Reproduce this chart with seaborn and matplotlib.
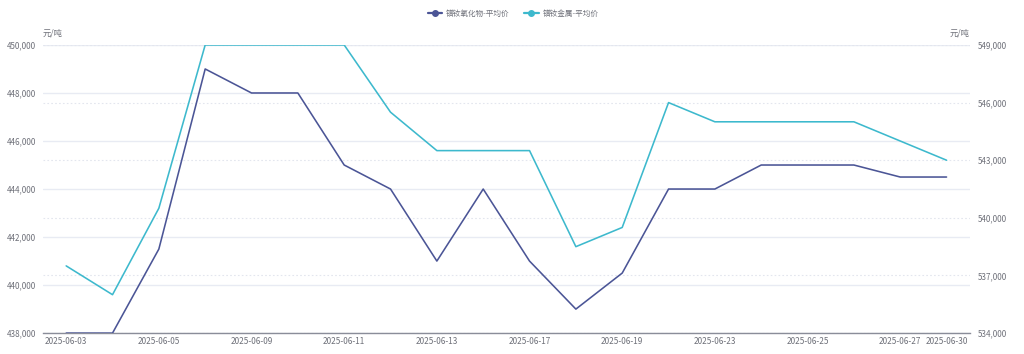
import numpy as np
import pandas as pd
import matplotlib
matplotlib.use("Agg")
import matplotlib.pyplot as plt
import seaborn as sns
from matplotlib.lines import Line2D
from matplotlib.ticker import FuncFormatter

# ── Data ──────────────────────────────────────────────────────────────────────
dates = [
    "2025-06-03", "2025-06-04", "2025-06-05", "2025-06-06", "2025-06-09",
    "2025-06-10", "2025-06-11", "2025-06-12", "2025-06-13", "2025-06-16",
    "2025-06-17", "2025-06-18", "2025-06-19", "2025-06-20", "2025-06-23",
    "2025-06-24", "2025-06-25", "2025-06-26", "2025-06-27", "2025-06-30",
]
oxide_price = [
    438000, 438000, 441500, 449000, 448000, 448000, 445000, 444000, 441000, 444000,
    441000, 439000, 440500, 444000, 444000, 445000, 445000, 445000, 444500, 444500,
]
metal_price = [
    537500, 536000, 540500, 549000, 549000, 549000, 549000, 545500, 543500, 543500,
    543500, 538500, 539500, 546000, 545000, 545000, 545000, 545000, 544000, 543000,
]
shown_dates = ["2025-06-03", "2025-06-05", "2025-06-09", "2025-06-11", "2025-06-13",
               "2025-06-17", "2025-06-19", "2025-06-23", "2025-06-25", "2025-06-27",
               "2025-06-30"]
left_ticks = np.arange(438000, 450001, 2000)
right_ticks = np.arange(534000, 549001, 3000)
LEFT_LIM = (438000, 450000)
RIGHT_LIM = (534000, 549000)

OXIDE_NAME = "镨钕氧化物-平均价"
METAL_NAME = "镨钕金属-平均价"
C_OXIDE = "#4b5596"
C_METAL = "#3db9cd"
TXT = "#6e7079"

df = pd.DataFrame({"x": np.arange(len(dates)), "oxide": oxide_price, "metal": metal_price})

sns.set_theme(style="white")
plt.rcParams["font.family"] = ["Noto Sans CJK SC", "DejaVu Sans"]

fig = plt.figure(figsize=(10.24, 3.54), dpi=100)
ax = fig.add_axes([0.042, 0.059, 0.905, 0.814])
ax2 = ax.twinx()

# grid: solid for left axis ticks, dotted for right axis ticks (both drawn under the lines)
for t in left_ticks:
    ax.axhline(t, color="#e8ebf3", lw=1.0, zorder=0)
scale = (LEFT_LIM[1] - LEFT_LIM[0]) / (RIGHT_LIM[1] - RIGHT_LIM[0])
for t in right_ticks:
    ax.axhline(LEFT_LIM[0] + (t - RIGHT_LIM[0]) * scale, color="#e3e6ee", lw=0.8,
               ls=(0, (1.5, 2)), zorder=0)

sns.lineplot(data=df, x="x", y="oxide", ax=ax, color=C_OXIDE, lw=1.15, zorder=3)
sns.lineplot(data=df, x="x", y="metal", ax=ax2, color=C_METAL, lw=1.15, zorder=3)

ax.set_xlim(-0.5, len(dates) - 0.5)
ax.set_ylim(*LEFT_LIM)
ax2.set_ylim(*RIGHT_LIM)
ax.set_yticks(left_ticks)
ax2.set_yticks(right_ticks)
fmt = FuncFormatter(lambda v, p: f"{int(v):,}")
ax.yaxis.set_major_formatter(fmt)
ax2.yaxis.set_major_formatter(fmt)

ax.set_xticks([dates.index(d) for d in shown_dates])
ax.set_xticklabels(shown_dates)
ax.set_xlabel("")
ax.set_ylabel("")
ax2.set_ylabel("")

for a in (ax, ax2):
    for s in a.spines.values():
        s.set_visible(False)
    a.tick_params(axis="y", length=0, labelsize=5.8, labelcolor=TXT, pad=5)
ax.spines["bottom"].set_visible(True)
ax.spines["bottom"].set_color("#8a8d99")
ax.spines["bottom"].set_linewidth(1.0)
ax.tick_params(axis="x", length=0, labelsize=5.9, labelcolor=TXT, pad=3)
ax2.tick_params(axis="y", pad=6)

fig.text(0.042, 0.907, "元/吨", fontsize=6, color=TXT, ha="left", va="center")
fig.text(0.947, 0.907, "元/吨", fontsize=6, color=TXT, ha="right", va="center")

handles = [
    Line2D([0], [0], color=C_OXIDE, lw=1.6, marker="o", markersize=4),
    Line2D([0], [0], color=C_METAL, lw=1.6, marker="o", markersize=4),
]
fig.legend(handles, [OXIDE_NAME, METAL_NAME], loc="center", bbox_to_anchor=(0.501, 0.96),
           ncol=2, frameon=False, fontsize=5.5, labelcolor=TXT, handlelength=1.9,
           handletextpad=0.5, columnspacing=1.9)

fig.savefig("out.png", dpi=100)
plt.close(fig)
